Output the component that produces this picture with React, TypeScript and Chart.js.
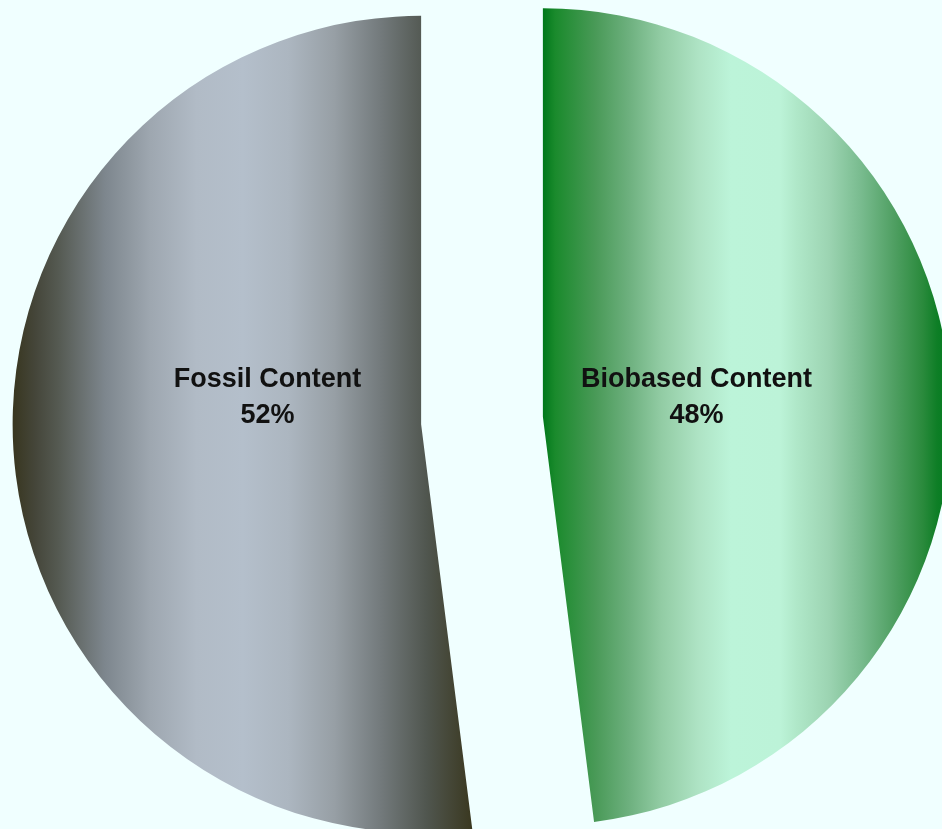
import React, { useEffect, useRef } from "react";
import { Chart, registerables } from "chart.js";

Chart.register(...registerables);

// Share of carbon by origin (percent)
const categories = ["Biobased Content", "Fossil Content"];
const shares = [48, 52];

// Horizontal gradient stops per slice: [position 0..1, colour]
const bioStops: [number, string][] = [
  [0, "#00781a"],
  [0.03, "#1a8a2c"],
  [0.13, "#4a9a58"],
  [0.21, "#6db07e"],
  [0.29, "#92cca4"],
  [0.38, "#aee3c4"],
  [0.46, "#bcf4d9"],
  [0.58, "#bcf3d8"],
  [0.62, "#b0e8c9"],
  [0.7, "#9cd4b2"],
  [0.78, "#78bb8e"],
  [0.86, "#4f9f62"],
  [0.93, "#2a8a3c"],
  [0.965, "#0e7e26"],
  [1, "#007a1e"],
];
const fossilStops: [number, string][] = [
  [0, "#38361f"],
  [0.05, "#45463a"],
  [0.1, "#555a52"],
  [0.2, "#7d868d"],
  [0.3, "#9ea7b0"],
  [0.4, "#b1bbc6"],
  [0.5, "#b4bfcb"],
  [0.6, "#acb6c0"],
  [0.7, "#979fa5"],
  [0.8, "#737a7c"],
  [0.9, "#50564f"],
  [1, "#3a3820"],
];
const sliceStops = [bioStops, fossilStops];

const PAGE_BG = "#f0ffff";
const EXPLODE = 61; // px each slice is pulled out along its mid-angle

// Pull every arc away from the centre along its bisector.
const explodePlugin = {
  id: "explodeSlices",
  afterDatasetUpdate(chart: any, args: any) {
    args.meta.data.forEach((arc: any) => {
      const mid = (arc.startAngle + arc.endAngle) / 2;
      arc.x += Math.cos(mid) * EXPLODE;
      arc.y += Math.sin(mid) * EXPLODE;
    });
  },
};

// Fill each slice with a left-to-right gradient spanning its own extent.
const gradientPlugin = {
  id: "sliceGradients",
  beforeDatasetsDraw(chart: any) {
    const ctx = chart.ctx as CanvasRenderingContext2D;
    const meta = chart.getDatasetMeta(0);
    meta.data.forEach((arc: any, i: number) => {
      let minX = arc.x;
      let maxX = arc.x;
      const steps = 180;
      for (let k = 0; k <= steps; k++) {
        const a = arc.startAngle + ((arc.endAngle - arc.startAngle) * k) / steps;
        const px = arc.x + Math.cos(a) * arc.outerRadius;
        minX = Math.min(minX, px);
        maxX = Math.max(maxX, px);
      }
      const g = ctx.createLinearGradient(minX, 0, maxX, 0);
      sliceStops[i].forEach(([p, c]) => g.addColorStop(p, c));
      arc.options.backgroundColor = g;
    });
  },
};

// Category name and percentage inside each slice.
const labelPlugin = {
  id: "sliceLabels",
  afterDatasetsDraw(chart: any) {
    const ctx = chart.ctx as CanvasRenderingContext2D;
    const meta = chart.getDatasetMeta(0);
    const area = chart.chartArea;
    const cy = (area.top + area.bottom) / 2;
    const total = shares.reduce((s, v) => s + v, 0);
    ctx.save();
    ctx.fillStyle = "#111111";
    ctx.font = "bold 27px 'Liberation Sans', Arial, sans-serif";
    ctx.textAlign = "center";
    ctx.textBaseline = "middle";
    meta.data.forEach((arc: any, i: number) => {
      const mid = (arc.startAngle + arc.endAngle) / 2;
      const r = arc.outerRadius;
      const x = arc.x + Math.cos(mid) * r * 0.377;
      const y = cy - r * 0.055;
      ctx.fillText(categories[i], x, y - 18);
      ctx.fillText(`${Math.round((shares[i] / total) * 100)}%`, x, y + 18);
    });
    ctx.restore();
  },
};

export default function App() {
  const canvasRef = useRef<HTMLCanvasElement | null>(null);

  useEffect(() => {
    document.body.style.margin = "0";
    document.body.style.background = PAGE_BG;
    const canvas = canvasRef.current;
    if (!canvas) return;
    const chart = new Chart(canvas, {
      type: "pie",
      data: {
        labels: categories,
        datasets: [
          {
            data: shares,
            backgroundColor: ["#7cbf8c", "#a4adb5"],
            borderWidth: 0,
            clip: false,
          } as any,
        ],
      },
      options: {
        responsive: false,
        animation: false,
        events: [],
        layout: { padding: { left: 73, right: 51, top: 12, bottom: 0 } },
        plugins: {
          legend: { display: false },
          tooltip: { enabled: false },
          title: { display: false },
        },
      },
      plugins: [explodePlugin, gradientPlugin, labelPlugin],
    });
    return () => chart.destroy();
  }, []);

  return (
    <div
      style={{
        position: "fixed",
        left: 0,
        top: 0,
        width: 942,
        height: 829,
        background: PAGE_BG,
        overflow: "hidden",
      }}
    >
      <canvas ref={canvasRef} width={942} height={829} style={{ display: "block" }} />
    </div>
  );
}
